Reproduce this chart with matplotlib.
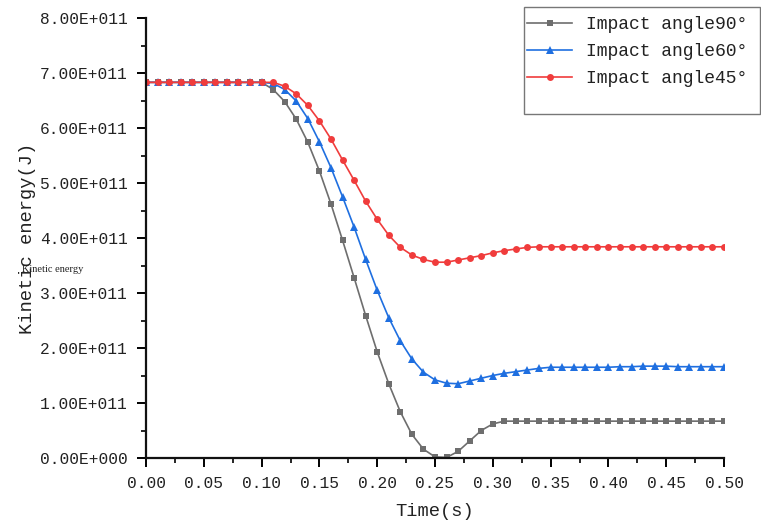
import numpy as np
import matplotlib
matplotlib.use("Agg")
import matplotlib.pyplot as plt
from matplotlib.patches import Rectangle
from matplotlib.ticker import MultipleLocator

# time steps 0.00 .. 0.50 s
time = np.round(np.arange(0, 51) * 0.01, 2)

# kinetic energy, units of 1e11 J
ke_90 = [6.83] * 11 + [
    6.70, 6.48, 6.16, 5.74, 5.22, 4.62, 3.96, 3.28, 2.59, 1.93,
    1.35, 0.84, 0.43, 0.16, 0.02, 0.01, 0.12, 0.31, 0.50, 0.62,
    0.67] + [0.67] * 19
ke_60 = [6.83] * 11 + [
    6.81, 6.70, 6.49, 6.17, 5.75, 5.28, 4.75, 4.20, 3.61, 3.05,
    2.55, 2.13, 1.80, 1.56, 1.42, 1.36, 1.35, 1.40, 1.45, 1.50,
    1.54, 1.57, 1.60, 1.63, 1.65, 1.65, 1.65, 1.65, 1.65, 1.65,
    1.66, 1.66, 1.67, 1.67, 1.67, 1.66, 1.66, 1.66, 1.66, 1.66]
ke_45 = [6.83] * 12 + [
    6.76, 6.62, 6.41, 6.13, 5.80, 5.42, 5.05, 4.67, 4.34, 4.05,
    3.83, 3.69, 3.61, 3.56, 3.56, 3.60, 3.64, 3.68, 3.73, 3.77,
    3.80, 3.83] + [3.84] * 17

series = [
    ("Impact angle90°", ke_90, "#6e6e6e", "s", 4.0),
    ("Impact angle60°", ke_60, "#1f6fe0", "^", 5.5),
    ("Impact angle45°", ke_45, "#f03c3c", "o", 5.0),
]

yticks = np.arange(0, 9) * 1e11
ytick_labels = ["0.00E+000", "1.00E+011", "2.00E+011", "3.00E+011", "4.00E+011",
                "5.00E+011", "6.00E+011", "7.00E+011", "8.00E+011"]
xticks = np.round(np.arange(0, 11) * 0.05, 2)
xtick_labels = [f"{t:.2f}" for t in xticks]

serif = "Liberation Serif"
mono = "Liberation Mono"
ink = "#222222"

fig = plt.figure(figsize=(7.61, 5.25), dpi=100)
ax = fig.add_axes([146 / 761, 1 - 458 / 525, 578 / 761, 440 / 525])

for label, vals, color, marker, ms in series:
    ax.plot(time, np.array(vals) * 1e11, color=color, lw=1.2, marker=marker,
            markersize=ms, markeredgewidth=0, label=label)

ax.set_xlim(0, 0.5)
ax.set_ylim(0, 8e11)
ax.set_xticks(xticks)
ax.set_xticklabels(xtick_labels, fontfamily=mono, fontsize=11.7, color=ink)
ax.set_yticks(yticks)
ax.set_yticklabels(ytick_labels, fontfamily=mono, fontsize=11.7, color=ink)
ax.xaxis.set_minor_locator(MultipleLocator(0.025))
ax.yaxis.set_minor_locator(MultipleLocator(0.5e11))
ax.tick_params(which="major", direction="out", length=6.5, width=1.4, pad=6.5)
ax.tick_params(which="minor", direction="out", length=3.5, width=1.2)

for side in ("top", "right"):
    ax.spines[side].set_visible(False)
for side in ("left", "bottom"):
    ax.spines[side].set_linewidth(1.6)
    ax.spines[side].set_color("#111111")

ax.set_xlabel("Time(s)", fontfamily=mono, fontsize=13.5, color=ink)
ax.set_ylabel("Kinetic energy(J)", fontfamily=mono, fontsize=13.5, color=ink)
ax.xaxis.label.set_va("center")
ax.yaxis.label.set_va("center")
ax.xaxis.set_label_coords(0.5, (458 - 512) / 440)
ax.yaxis.set_label_coords((28 - 146) / 578, 0.5)

# stray small caption sitting over the y label
fig.text(22 / 761, 1 - 270 / 525, "Kinetic energy", fontfamily=serif,
         fontsize=7.5, color=ink, ha="left", va="center")

# legend box reaches past the plot area
fig.patches.append(Rectangle((524 / 761, 1 - 114 / 525), 236 / 761, 107 / 525,
                             transform=fig.transFigure, fill=False,
                             edgecolor="#777777", lw=1.0))
fig.legend(loc="upper left", bbox_to_anchor=(527 / 761, 1 - 16 / 525),
           frameon=False, prop={"family": mono, "size": 13},
           handlelength=2.5, handletextpad=0.75, labelspacing=0.55,
           borderpad=0, borderaxespad=0, labelcolor=ink)

fig.savefig("out.png", dpi=100)
